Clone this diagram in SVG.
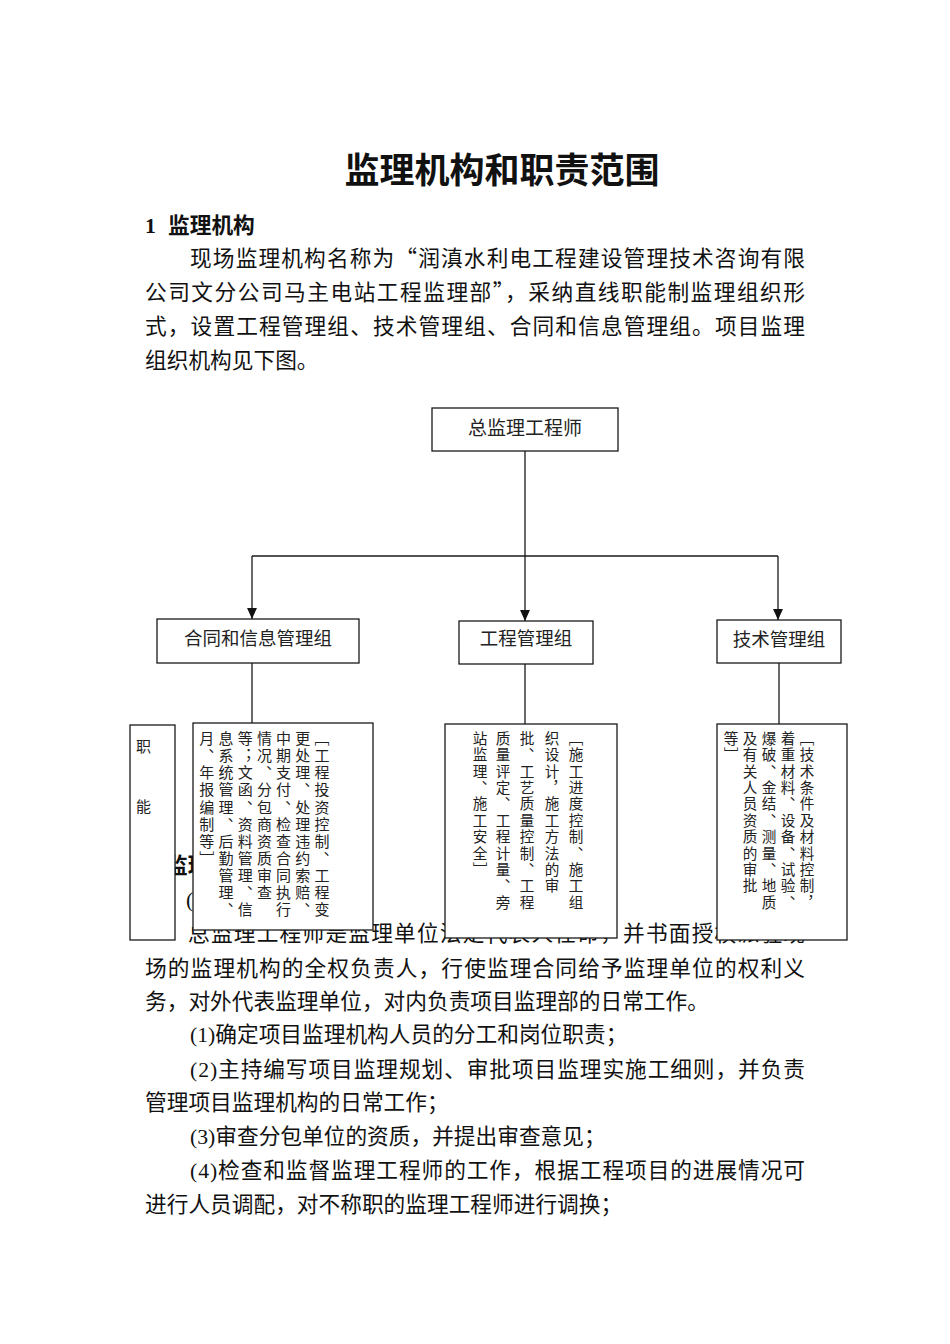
<svg xmlns="http://www.w3.org/2000/svg" width="950" height="1344" viewBox="0 0 950 1344">
<defs>
<style>
.bg{fill:#ffffff}
.t{font-family:"Noto Sans CJK SC","Liberation Serif",serif;font-size:21.7px;fill:#111}
.num{font-family:"Liberation Serif",serif}
.h{font-family:"Noto Sans CJK SC","Liberation Serif",serif;font-size:21.7px;font-weight:bold;fill:#111}
.title{font-family:"Noto Sans CJK SC",sans-serif;font-size:35px;font-weight:bold;fill:#111}
.box{fill:#ffffff;stroke:#1a1a1a;stroke-width:1.3}
.lbl{font-family:"Noto Sans CJK SC",sans-serif;font-size:18.5px;fill:#222;text-anchor:middle}
.sm{font-family:"Noto Sans CJK SC",sans-serif;font-size:15px;fill:#222}
.v{font-family:"Noto Sans CJK SC",sans-serif;fill:#222;writing-mode:vertical-rl}
.v17{font-size:15px;letter-spacing:2.1px}
.v16{font-size:14.6px;letter-spacing:1.8px}
.ln{fill:none;stroke:#1a1a1a;stroke-width:1.3}
</style>
<marker id="arr" viewBox="0 0 10 10" refX="10" refY="5" markerWidth="11" markerHeight="11" markerUnits="userSpaceOnUse" orient="auto">
<path d="M0,0.5 L10,5 L0,9.5 Z" fill="#111"/>
</marker>
</defs>
<rect class="bg" x="0" y="0" width="950" height="1344"/>

<g id="header-text">
<text class="title" x="502" y="183" text-anchor="middle">监理机构和职责范围</text>
<text class="h" y="233"><tspan class="num" x="145">1</tspan><tspan x="168">监理机构</tspan></text>
<text class="t" x="190" y="266" textLength="615" lengthAdjust="spacing">现场监理机构名称为“润滇水利电工程建设管理技术咨询有限</text>
<text class="t" x="145" y="300" textLength="660" lengthAdjust="spacing">公司文分公司马主电站工程监理部”，采纳直线职能制监理组织形</text>
<text class="t" x="145" y="334" textLength="660" lengthAdjust="spacing">式，设置工程管理组、技术管理组、合同和信息管理组。项目监理</text>
<text class="t" x="145" y="368">组织机构见下图。</text>
</g>

<g id="body-text">
<text class="h" y="873"><tspan class="num" x="145">2</tspan><tspan x="166">监理职责</tspan></text>
<text class="t" x="186" y="907"><tspan class="num">(1)</tspan>总监理工程师</text>
<text class="t" x="188" y="941" textLength="617" lengthAdjust="spacing">总监理工程师是监理单位法定代表人任命，并书面授权派驻现</text>
<text class="t" x="145" y="976" textLength="660" lengthAdjust="spacing">场的监理机构的全权负责人，行使监理合同给予监理单位的权利义</text>
<text class="t" x="145" y="1009">务，对外代表监理单位，对内负责项目监理部的日常工作。</text>
<text class="t" x="190" y="1042"><tspan class="num">(1)</tspan>确定项目监理机构人员的分工和岗位职责；</text>
<text class="t" x="190" y="1077" textLength="615" lengthAdjust="spacing"><tspan class="num">(2)</tspan>主持编写项目监理规划、审批项目监理实施工细则，并负责</text>
<text class="t" x="145" y="1110">管理项目监理机构的日常工作；</text>
<text class="t" x="190" y="1144"><tspan class="num">(3)</tspan>审查分包单位的资质，并提出审查意见；</text>
<text class="t" x="190" y="1178" textLength="615" lengthAdjust="spacing"><tspan class="num">(4)</tspan>检查和监督监理工程师的工作，根据工程项目的进展情况可</text>
<text class="t" x="145" y="1212">进行人员调配，对不称职的监理工程师进行调换；</text>
</g>

<g id="connectors">
<line class="ln" x1="525" y1="451" x2="525" y2="556"/>
<line class="ln" x1="252" y1="556" x2="778" y2="556"/>
<line class="ln" x1="252" y1="556" x2="252" y2="619" marker-end="url(#arr)"/>
<line class="ln" x1="525" y1="556" x2="525" y2="621" marker-end="url(#arr)"/>
<line class="ln" x1="778" y1="556" x2="778" y2="620" marker-end="url(#arr)"/>
<line class="ln" x1="252" y1="663" x2="252" y2="723"/>
<line class="ln" x1="525" y1="664" x2="525" y2="724"/>
<line class="ln" x1="779" y1="663" x2="779" y2="724"/>
</g>

<g id="node-chief">
<rect class="box" x="432" y="408" width="186" height="43"/>
<text class="lbl" x="525" y="435" style="font-size:19px">总监理工程师</text>
</g>
<g id="node-contract">
<rect class="box" x="157" y="619" width="202" height="44"/>
<text class="lbl" x="258" y="645">合同和信息管理组</text>
</g>
<g id="node-engineering">
<rect class="box" x="459" y="621" width="134" height="43"/>
<text class="lbl" x="526" y="645">工程管理组</text>
</g>
<g id="node-technical">
<rect class="box" x="717" y="620" width="124" height="43"/>
<text class="lbl" x="779" y="646">技术管理组</text>
</g>

<g id="node-function">
<rect class="box" x="130" y="725" width="45" height="215"/>
<text class="sm" x="136" y="752">职</text>
<text class="sm" x="136" y="812">能</text>
</g>

<g id="node-contract-duty">
<rect class="box" x="193" y="723" width="180" height="207"/>
<text class="v v17" x="322" y="731">［工程投资控制、工程变</text>
<text class="v v17" x="302.8" y="731">更处理、处理违约索赔、</text>
<text class="v v17" x="283.6" y="731">中期支付、检查合同执行</text>
<text class="v v17" x="264.4" y="731">情况、分包商资质审查</text>
<text class="v v17" x="245.2" y="731">等；文函、资料管理、信</text>
<text class="v v17" x="226" y="731">息系统管理、后勤管理、</text>
<text class="v v17" x="206.8" y="731">月、年报编制等］</text>
</g>

<g id="node-engineering-duty">
<rect class="box" x="445" y="724" width="172" height="214"/>
<text class="v v16" x="576" y="731">［施工进度控制、施工组</text>
<text class="v v16" x="552" y="731">织设计，施工方法的审</text>
<text class="v v16" x="527" y="731">批、工艺质量控制、工程</text>
<text class="v v16" x="503" y="731">质量评定、工程计量、旁</text>
<text class="v v16" x="480" y="731">站监理、施工安全］</text>
</g>

<g id="node-technical-duty">
<rect class="box" x="717" y="724" width="130" height="216"/>
<text class="v v16" x="807" y="731">［技术条件及材料控制，</text>
<text class="v v16" x="788" y="731">着重材料、设备、试验、</text>
<text class="v v16" x="769" y="731">爆破、金结、测量、地质</text>
<text class="v v16" x="750" y="731">及有关人员资质的审批</text>
<text class="v v16" x="731" y="731">等］</text>
</g>
</svg>
